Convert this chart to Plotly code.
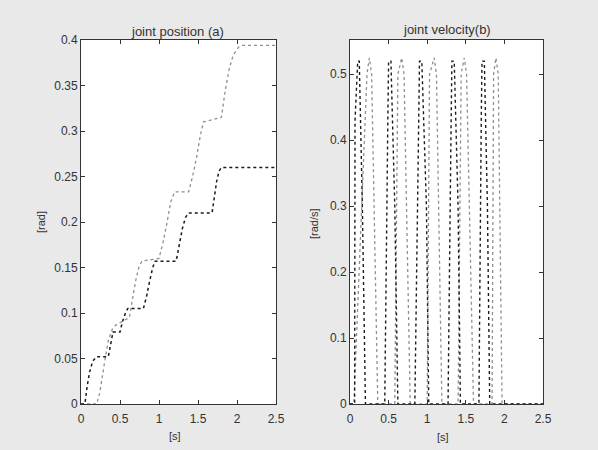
import plotly.graph_objects as go

# ---- data ----
pos_dark_t = [0, 0.05, 0.08, 0.11, 0.15, 0.20, 0.35, 0.38, 0.41, 0.50, 0.53, 0.57, 0.60,
              0.80, 0.84, 0.88, 0.92, 0.95, 1.22, 1.26, 1.30, 1.34, 1.38, 1.68, 1.71,
              1.74, 1.77, 1.80, 2.50]
pos_dark_q = [0, 0, 0.020, 0.035, 0.047, 0.052, 0.052, 0.066, 0.079, 0.079, 0.090, 0.100,
              0.105, 0.105, 0.118, 0.135, 0.150, 0.157, 0.157, 0.175, 0.193, 0.205, 0.210,
              0.210, 0.228, 0.245, 0.256, 0.260, 0.260]

pos_light_t = [0, 0.20, 0.24, 0.27, 0.31, 0.35, 0.40, 0.45, 0.62, 0.66, 0.70, 0.74, 0.78,
               1.00, 1.05, 1.10, 1.15, 1.20, 1.38, 1.43, 1.48, 1.53, 1.57, 1.80, 1.85,
               1.90, 1.95, 2.02, 2.06, 2.50]
pos_light_q = [0, 0, 0.012, 0.030, 0.050, 0.070, 0.082, 0.087, 0.095, 0.115, 0.135, 0.150,
               0.157, 0.160, 0.177, 0.198, 0.222, 0.233, 0.233, 0.250, 0.270, 0.295, 0.310,
               0.315, 0.345, 0.368, 0.383, 0.392, 0.394, 0.394]

vel_dark_t = [0, 0.06, 0.065, 0.10, 0.12, 0.16, 0.20, 0.45, 0.49, 0.50, 0.53, 0.58, 0.62,
              0.84, 0.89, 0.90, 0.93, 0.99, 1.02, 1.27, 1.31, 1.32, 1.35, 1.40, 1.43,
              1.67, 1.70, 1.71, 1.74, 1.78, 1.81, 2.50]
vel_dark_v = [0, 0, 0.43, 0.52, 0.52, 0.30, 0, 0, 0.43, 0.52, 0.52, 0.30, 0,
              0, 0.43, 0.52, 0.52, 0.30, 0, 0, 0.43, 0.52, 0.52, 0.30, 0,
              0, 0.43, 0.52, 0.52, 0.30, 0, 0]

vel_light_t = [0, 0.02, 0.05, 0.22, 0.25, 0.28, 0.36, 0.58, 0.62, 0.67, 0.70, 0.78,
               1.00, 1.03, 1.09, 1.12, 1.19, 1.40, 1.44, 1.48, 1.51, 1.60, 1.84,
               1.86, 1.89, 1.92, 1.97, 2.50]
vel_light_v = [0, 0, 0, 0.50, 0.525, 0.50, 0, 0, 0.50, 0.525, 0.50, 0,
               0, 0.50, 0.525, 0.50, 0, 0, 0.50, 0.525, 0.50, 0, 0,
               0.50, 0.525, 0.50, 0, 0]

x_ticks = [0, 0.5, 1, 1.5, 2, 2.5]
x_tick_text = ["0", "0.5", "1", "1.5", "2", "2.5"]
pos_ticks = [0, 0.05, 0.1, 0.15, 0.2, 0.25, 0.3, 0.35, 0.4]
pos_tick_text = ["0", "0.05", "0.1", "0.15", "0.2", "0.25", "0.3", "0.35", "0.4"]
vel_ticks = [0, 0.1, 0.2, 0.3, 0.4, 0.5]
vel_tick_text = ["0", "0.1", "0.2", "0.3", "0.4", "0.5"]

W, H = 598, 450
FONT = "Liberation Sans, Arial, sans-serif"

fig = go.Figure()
fig.add_trace(go.Scatter(x=pos_light_t, y=pos_light_q, mode="lines",
                         line=dict(color="#8f8f8f", width=1.3, dash="dot"),
                         xaxis="x", yaxis="y", showlegend=False))
fig.add_trace(go.Scatter(x=pos_dark_t, y=pos_dark_q, mode="lines",
                         line=dict(color="#1a1a1a", width=1.5, dash="dot"),
                         xaxis="x", yaxis="y", showlegend=False))
fig.add_trace(go.Scatter(x=vel_light_t, y=vel_light_v, mode="lines",
                         line=dict(color="#8f8f8f", width=1.3, dash="dot"),
                         xaxis="x2", yaxis="y2", showlegend=False))
fig.add_trace(go.Scatter(x=vel_dark_t, y=vel_dark_v, mode="lines",
                         line=dict(color="#1a1a1a", width=1.4, dash="dot"),
                         xaxis="x2", yaxis="y2", showlegend=False))

ax_common = dict(showgrid=False, zeroline=False, showline=True, linecolor="#333",
                 linewidth=1, mirror="ticks", ticks="inside", ticklen=4,
                 tickcolor="#333", automargin=False,
                 tickfont=dict(family=FONT, size=12, color="#333"))

y0 = 1 - 404 / H
y1 = 1 - 40 / H
fig.update_layout(
    width=W, height=H,
    margin=dict(l=0, r=0, t=0, b=0),
    paper_bgcolor="#e9e9e9", plot_bgcolor="white",
    xaxis=dict(domain=[81 / W, 276 / W], range=[0, 2.5], tickvals=x_ticks,
               ticktext=x_tick_text, anchor="y", ticklabelstandoff=4, **ax_common),
    yaxis=dict(domain=[y0, y1], range=[0, 0.4], tickvals=pos_ticks,
               ticktext=pos_tick_text, anchor="x", **ax_common),
    xaxis2=dict(domain=[350 / W, 543 / W], range=[0, 2.5], tickvals=x_ticks,
                ticktext=x_tick_text, anchor="y2", ticklabelstandoff=4, **ax_common),
    yaxis2=dict(domain=[y0, y1], range=[0, 0.552], tickvals=vel_ticks,
                ticktext=vel_tick_text, anchor="x2", **ax_common),
)

def label(text, px, py, angle=0, size=11):
    fig.add_annotation(text=text, x=px / W, y=1 - py / H, textangle=angle,
                       xref="paper", yref="paper", showarrow=False,
                       font=dict(family=FONT, size=size, color="#333"),
                       xanchor="center", yanchor="middle")

label("joint position (a)", 177, 31, size=13)
label("joint velocity(b)", 447, 30, size=13)
label("[rad]", 41, 222, -90)
label("[rad/s]", 314, 224, -90)
label("[s]", 175, 436)
label("[s]", 443, 437)

fig.write_html("out.html", config={"displayModeBar": False},
               post_script="document.body.style.margin='0';")
